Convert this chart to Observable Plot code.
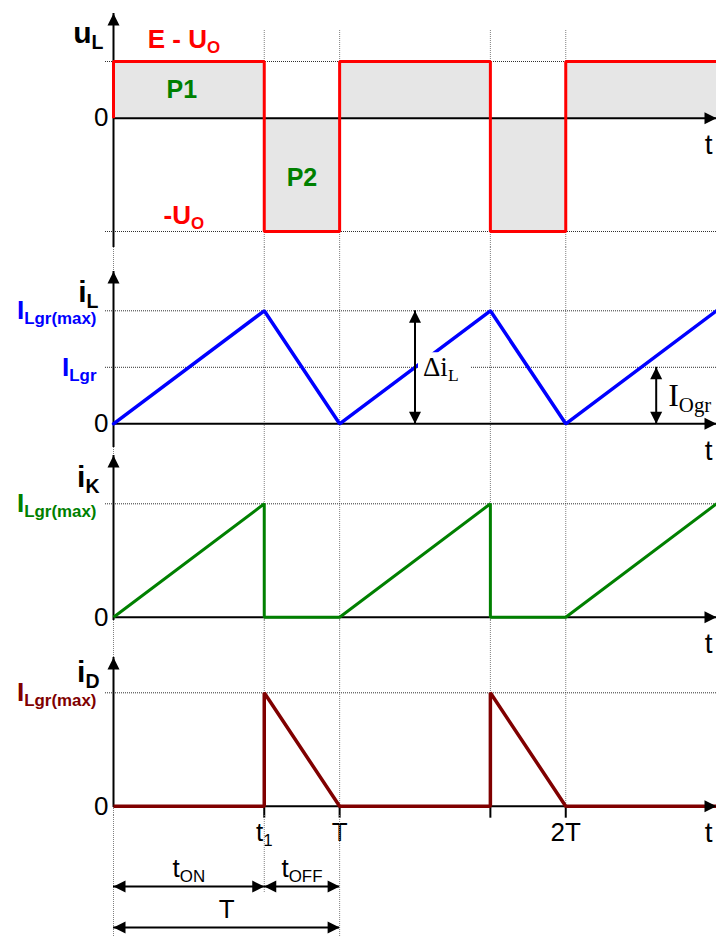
<!DOCTYPE html>
<html>
<head>
<meta charset="utf-8">
<script src="https://cdn.jsdelivr.net/npm/d3@7"></script>
<script src="https://cdn.jsdelivr.net/npm/@observablehq/plot@0.6"></script>
<style>
  body { margin: 0; background: white; }
  #figure { position: relative; width: 716px; height: 936px; overflow: hidden; }
  #figure svg { position: absolute; left: 0; }
</style>
</head>
<body>
<div id="figure"></div>
<script>
// Time axis in units of T/3: the switch conducts on [0, t1), the diode on [t1, T)
const tMax = 8;
const guideTimes = [0, 2, 3, 5, 6];
const tickTimes = [2, 3, 5, 6];
const tickLabels = ["t_{1}", "T", "", "2T"];

// u_L: inductor voltage, E - U_O while the switch is on, -U_O while it is off
const uTime  = [0, 0, 2, 2, 3, 3, 5, 5, 6, 6, 8];
const uValue = [0, 1, 1, -2, -2, 1, 1, -2, -2, 1, 1];
const uLevels = [1, -2];

// i_L: inductor current at the boundary of continuous conduction
const iLTime  = [0, 2, 3, 5, 6, 8];
const iLValue = [0, 2, 0, 2, 0, 2];
const iLLevels = [2, 1];          // I_Lgr(max), I_Lgr
const rippleAt = 4;               // where the ripple Δi_L is dimensioned
const averageAt = 7.2;            // where the mean I_Ogr is dimensioned

// i_K: switch current
const iKTime  = [0, 2, 2, 3, 5, 5, 6, 8];
const iKValue = [0, 2, 0, 0, 2, 0, 0, 2];

// i_D: diode current
const iDTime  = [0, 2, 2, 3, 5, 5, 6, 8];
const iDValue = [0, 0, 2, 0, 0, 2, 0, 0];
const peakLevel = [2];

// interval dimensions under the time axis
const spanStart = [0, 2, 0];
const spanEnd   = [2, 3, 3];
const spanRow   = ["split", "split", "period"];
const spanLabel = ["t_{ON}", "t_{OFF}", "T"];

const ink = "#000";
const guideInk = "#808080";
const levelInk = "#303030";
const sans = '"Liberation Sans", Arial, sans-serif';
const serif = '"Liberation Serif", "Times New Roman", serif';

const series = (ts, vs) => ts.map((t, i) => ({t, v: vs[i]}));
const uL = series(uTime, uValue);
const iL = series(iLTime, iLValue);
const iK = series(iKTime, iKValue);
const iD = series(iDTime, iDValue);
const spans = spanStart.map((s, i) => ({s, e: spanEnd[i], row: spanRow[i], label: spanLabel[i]}));

// filled arrowheads, tip at the symbol origin
const headUp    = {draw(c) { c.moveTo(0, 0); c.lineTo(-6, 12); c.lineTo(6, 12); c.closePath(); }};
const headDown  = {draw(c) { c.moveTo(0, 0); c.lineTo(-6, -12); c.lineTo(6, -12); c.closePath(); }};
const headRight = {draw(c) { c.moveTo(0, 0); c.lineTo(-12, -6); c.lineTo(-12, 6); c.closePath(); }};
const headLeft  = {draw(c) { c.moveTo(0, 0); c.lineTo(12, -6); c.lineTo(12, 6); c.closePath(); }};
const labelBox = (w, h) => ({draw(c) { c.rect(0, -h / 2, w, h); }});

// "X_{sub}" → X with a lowered, smaller subscript
function withSubscripts(svg) {
  const ns = "http://www.w3.org/2000/svg";
  for (const node of svg.querySelectorAll("text")) {
    const m = /^(.*)_\{(.*)\}$/.exec(node.textContent);
    if (!m) continue;
    node.textContent = "";
    const main = document.createElementNS(ns, "tspan");
    main.textContent = m[1];
    const sub = document.createElementNS(ns, "tspan");
    sub.textContent = m[2];
    sub.setAttribute("font-size", "0.65em");
    sub.setAttribute("dy", "0.3em");
    node.append(main, sub);
  }
  return svg;
}

function panel(top, height, marginTop, y, marks) {
  const svg = Plot.plot({
    width: 716, height,
    marginLeft: 113, marginRight: 0, marginTop, marginBottom: 0,
    x: {domain: [0, tMax], axis: null},
    y: {...y, axis: null},
    marks
  });
  svg.style.background = "transparent";
  svg.style.overflow = "visible";
  svg.style.top = `${top}px`;
  svg.style.fontFamily = sans;
  svg.style.color = ink;
  withSubscripts(svg);
  document.getElementById("figure").append(svg);
}

const guides = (times, opts) => Plot.ruleX(times, {stroke: guideInk, strokeDasharray: "1,1", strokeWidth: 1, ...opts});
const levels = (vals) => Plot.ruleY(vals, {stroke: levelInk, strokeDasharray: "1,1", strokeWidth: 1, insetLeft: -8});
const axisLines = (insetBottom = 0) => [
  Plot.ruleX([0], {stroke: ink, strokeWidth: 2, insetBottom}),
  Plot.ruleY([0], {stroke: ink, strokeWidth: 2})
];
const axisHeads = () => [
  Plot.dot([0], {x: d => d, frameAnchor: "top", symbol: headUp, fill: ink}),
  Plot.dot([tMax], {x: d => d, y: 0, symbol: headRight, fill: ink})
];
const axisTexts = (name, nameDx, nameDy) => [
  Plot.text([name], {frameAnchor: "top-left", dx: nameDx, dy: nameDy, textAnchor: "end", fontSize: 30, fontWeight: "bold", fill: ink}),
  Plot.text(["0"], {x: 0, y: 0, dx: -5, textAnchor: "end", fontSize: 26, fill: ink}),
  Plot.text(["t"], {x: tMax, y: 0, dx: -4, dy: 27, textAnchor: "end", fontSize: 28, fill: ink})
];
const levelText = (label, y, color) =>
  Plot.text([label], {x: 0, y, dx: -17, textAnchor: "end", fontSize: 26, fontWeight: "bold", fill: color});

// u_L
panel(0, 247, 13, {domain: [-2, 1], range: [231, 61]}, [
  Plot.areaY(uL, {x: "t", y: "v", fill: "#e6e6e6"}),
  guides(guideTimes, {insetTop: 17}),
  levels(uLevels),
  ...axisLines(),
  Plot.line(uL, {x: "t", y: "v", stroke: "#ff0000", strokeWidth: 3, strokeLinejoin: "miter", strokeLinecap: "butt"}),
  ...axisHeads(),
  ...axisTexts("u_{L}", -10, 8),
  Plot.text(["E - U_{O}"], {x: 1, y: 1, dx: -5, dy: -22, fontSize: 26, fontWeight: "bold", fill: "#ff0000"}),
  Plot.text(["-U_{O}"], {x: 1, y: -2, dx: -5, dy: -16, fontSize: 26, fontWeight: "bold", fill: "#ff0000"}),
  Plot.text(["P1"], {x: 1, y: 0.5, dx: -7, fontSize: 25, fontWeight: "bold", fill: "#008000"}),
  Plot.text(["P2"], {x: 2.5, y: -1, dy: 3, fontSize: 25, fontWeight: "bold", fill: "#008000"})
]);

// i_L
panel(247, 200, 24, {domain: [0, 2], range: [176.3, 63.3]}, [
  guides(guideTimes, {insetTop: -24}),
  levels(iLLevels),
  ...axisLines(),
  Plot.line(iL, {x: "t", y: "v", stroke: "#0000ff", strokeWidth: 3.5, strokeLinejoin: "miter"}),
  Plot.dot([rippleAt], {x: d => d, y: 1, dx: 3, symbol: labelBox(52, 30), fill: "white"}),
  Plot.ruleX([rippleAt], {y1: 0, y2: iLLevels[0], stroke: ink, strokeWidth: 2}),
  Plot.dot([rippleAt], {x: d => d, y: iLLevels[0], symbol: headUp, fill: ink}),
  Plot.dot([rippleAt], {x: d => d, y: 0, symbol: headDown, fill: ink}),
  Plot.ruleX([averageAt], {y1: 0, y2: iLLevels[1], stroke: ink, strokeWidth: 2}),
  Plot.dot([averageAt], {x: d => d, y: iLLevels[1], symbol: headUp, fill: ink}),
  Plot.dot([averageAt], {x: d => d, y: 0, symbol: headDown, fill: ink}),
  ...axisHeads(),
  ...axisTexts("i_{L}", -15, 9),
  levelText("I_{Lgr(max)}", iLLevels[0], "#0000ff"),
  levelText("I_{Lgr}", iLLevels[1], "#0000ff"),
  Plot.text(["Δi_{L}"], {x: rippleAt, y: iLLevels[1], dx: 8, textAnchor: "start", fontSize: 27, fontFamily: serif, fill: ink}),
  Plot.text(["I_{Ogr}"], {x: averageAt, y: iLLevels[1] / 2, dx: 12, textAnchor: "start", fontSize: 32, fontFamily: serif, fill: ink})
]);

// i_K
panel(447, 173, 8, {domain: [0, 2], range: [169.7, 56.3]}, [
  guides(guideTimes, {insetTop: -8}),
  levels(peakLevel),
  ...axisLines(),
  Plot.line(iK, {x: "t", y: "v", stroke: "#008000", strokeWidth: 3, strokeLinejoin: "miter", strokeLinecap: "butt"}),
  ...axisHeads(),
  ...axisTexts("i_{K}", -14, 10),
  levelText("I_{Lgr(max)}", peakLevel[0], "#008000")
]);

// i_D
panel(620, 195, 37, {domain: [0, 2], range: [185.7, 72.3]}, [
  guides(guideTimes.slice(0, 3), {insetTop: -37}),
  guides(guideTimes.slice(3), {insetTop: -37, insetBottom: 9.3}),
  levels(peakLevel),
  ...axisLines(8),
  Plot.ruleX(tickTimes, {y1: 0, y2: 0, insetBottom: -12, stroke: ink, strokeWidth: 2}),
  Plot.line(iD, {x: "t", y: "v", stroke: "#800000", strokeWidth: 3.5, strokeLinejoin: "miter", strokeLinecap: "butt"}),
  ...axisHeads(),
  ...axisTexts("i_{D}", -14, 3),
  levelText("I_{Lgr(max)}", peakLevel[0], "#800000"),
  Plot.text(tickTimes, {x: d => d, y: 0, text: (d, i) => tickLabels[i], dy: 26, fontSize: 26, fill: ink})
]);

// t_ON, t_OFF and T dimension lines
panel(815, 121, 0, {type: "point", domain: ["split", "period"], range: [71, 112], padding: 0}, [
  guides([0, 3]),
  guides([2], {insetBottom: 44}),
  Plot.ruleY(spans, {y: "row", x1: "s", x2: "e", stroke: ink, strokeWidth: 2}),
  Plot.dot(spans, {x: "s", y: "row", symbol: headLeft, fill: ink}),
  Plot.dot(spans, {x: "e", y: "row", symbol: headRight, fill: ink}),
  Plot.text(spans, {x: d => (d.s + d.e) / 2, y: "row", text: "label", dy: -18, fontSize: 26, fill: ink})
]);
</script>
</body>
</html>
